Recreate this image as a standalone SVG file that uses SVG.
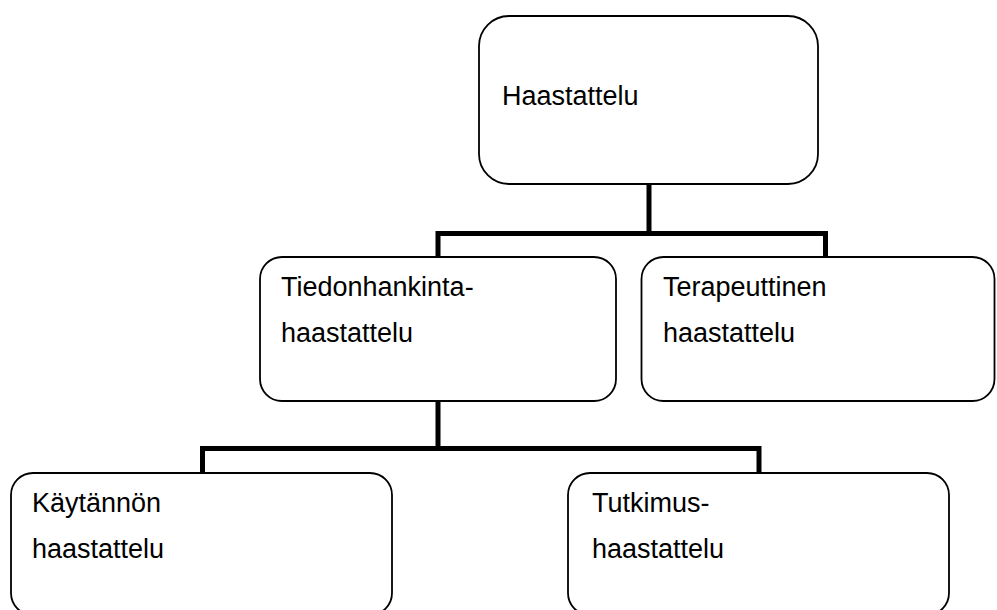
<svg xmlns="http://www.w3.org/2000/svg" width="997" height="610" viewBox="0 0 997 610">
<style>
.box{fill:#fff;stroke:#000;stroke-width:1.8}
.conn{fill:none;stroke:#000;stroke-width:5;stroke-linejoin:miter;stroke-linecap:butt}
text{font-family:"Liberation Sans",Arial,sans-serif;font-size:27px;fill:#000}
</style>
<rect width="997" height="610" fill="#fff"/>
<g id="connectors">
<path class="conn" d="M649,184 V233.5 M438,257 V233.5 H825.5 V257"/>
<path class="conn" d="M438,401 V448.5 M202.5,473 V448.5 H759 V473"/>
</g>
<g id="node-haastattelu">
<rect class="box" x="479" y="16" width="339" height="168" rx="30" ry="30"/>
<text x="502" y="105">Haastattelu</text>
</g>
<g id="node-tiedonhankinta">
<rect class="box" x="260" y="257" width="356" height="144" rx="22" ry="22"/>
<text x="281" y="296">Tiedonhankinta-</text>
<text x="281" y="342">haastattelu</text>
</g>
<g id="node-terapeuttinen">
<rect class="box" x="641.5" y="257" width="353" height="144" rx="22" ry="22"/>
<text x="663" y="296">Terapeuttinen</text>
<text x="663" y="342">haastattelu</text>
</g>
<g id="node-kaytannon">
<rect class="box" x="11" y="473" width="381" height="142" rx="22" ry="22"/>
<text x="32" y="512">Käytännön</text>
<text x="32" y="558">haastattelu</text>
</g>
<g id="node-tutkimus">
<rect class="box" x="568" y="473" width="381" height="142" rx="22" ry="22"/>
<text x="592" y="512">Tutkimus-</text>
<text x="592" y="558">haastattelu</text>
</g>
</svg>
